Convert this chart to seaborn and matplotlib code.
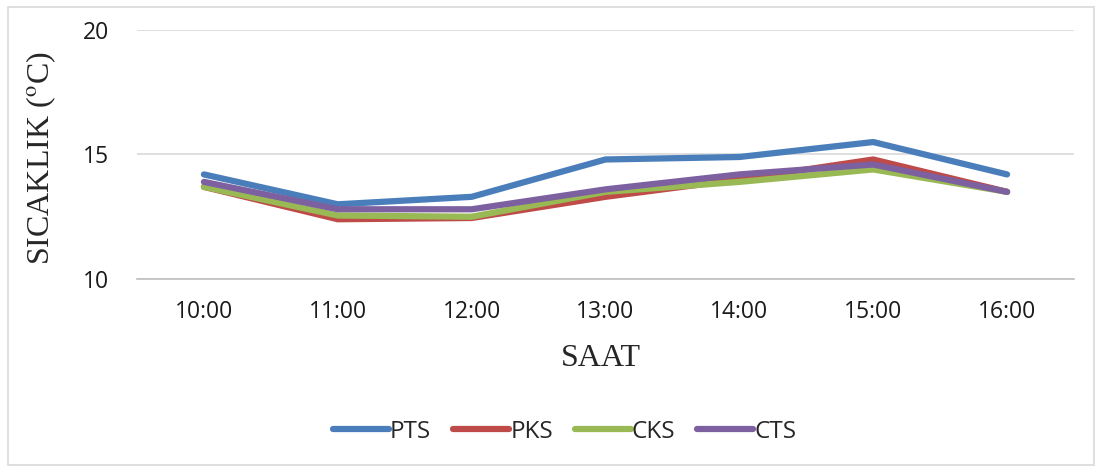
import pandas as pd
import numpy as np
import seaborn as sns
import matplotlib.pyplot as plt
from matplotlib.patches import Rectangle

# values
saat = ["10:00", "11:00", "12:00", "13:00", "14:00", "15:00", "16:00"]
pts = [14.2, 13.0, 13.3, 14.8, 14.9, 15.5, 14.2]
pks = [13.7, 12.4, 12.45, 13.3, 14.0, 14.8, 13.5]
cks = [13.7, 12.55, 12.5, 13.5, 13.9, 14.4, 13.5]
cts = [13.9, 12.8, 12.8, 13.6, 14.2, 14.6, 13.5]

series = {"PTS": pts, "PKS": pks, "CKS": cks, "CTS": cts}
colors = {"PTS": "#4a7ebb", "PKS": "#be4b48", "CKS": "#98b954", "CTS": "#7d60a0"}

rows = []
for name, vals in series.items():
    for i, v in enumerate(vals):
        rows.append({"pos": i, "saat": saat[i], "seri": name, "deger": v})
df = pd.DataFrame(rows)

sns.set_style("white")
plt.rcParams["mathtext.fontset"] = "stix"
fig = plt.figure(figsize=(11.03, 4.72), dpi=100)
ax = fig.add_axes([137 / 1103, 1 - 279 / 472, (1074 - 137) / 1103, (279 - 30) / 472])

sns.lineplot(data=df, x="pos", y="deger", hue="seri", palette=colors,
             linewidth=4.5, ax=ax, legend=False, sort=False)
for line in ax.lines:
    line.set_solid_capstyle("round")
    line.set_solid_joinstyle("round")

ax.set_xlim(-0.5, 6.5)
ax.set_ylim(10, 20)
ax.set_yticks([10, 15, 20])
ax.set_xticks(range(len(saat)))
ax.set_xticklabels(saat)
ax.set_xticks(np.arange(-0.5, 7, 1), minor=True)
ax.yaxis.grid(True, color="#d9d9d9", linewidth=1.2)
ax.set_axisbelow(True)
for s in ["top", "right", "left"]:
    ax.spines[s].set_visible(False)
ax.spines["bottom"].set_color("#bfbfbf")
ax.spines["bottom"].set_linewidth(1.2)

ax.tick_params(axis="x", which="major", length=0, pad=15, labelsize=16.5)
ax.tick_params(axis="x", which="minor", length=9, color="#bfbfbf", width=1.2)
ax.tick_params(axis="y", length=0, pad=20, labelsize=16.5)
for lab in ax.get_xticklabels() + ax.get_yticklabels():
    lab.set_fontfamily("Open Sans")
    lab.set_color("#1a1a1a")

ax.set_xlabel("SAAT", family="Liberation Serif", fontsize=23)
ax.set_ylabel("SICAKLIK ($^{\\mathrm{o}}$C)", family="Liberation Serif", fontsize=23)
ax.xaxis.set_label_coords(0.495, -0.262)
ax.yaxis.set_label_coords(-0.0845, 0.486)

handles = [plt.Line2D([], [], color=colors[n], linewidth=4.5, solid_capstyle="round") for n in series]
fig.legend(handles, list(series), loc="center", bbox_to_anchor=(0.512, 1 - 432 / 472),
           ncol=4, frameon=False, handlelength=2.3, handletextpad=0.05, columnspacing=0.9,
           prop={"family": "Open Sans", "size": 17.5})

fig.patches.append(Rectangle((8 / 1103, 7 / 472), 1086 / 1103, 458 / 472, transform=fig.transFigure,
                             fill=False, edgecolor="#d9d9d9", linewidth=1.2))

fig.savefig("out.png", dpi=100)
